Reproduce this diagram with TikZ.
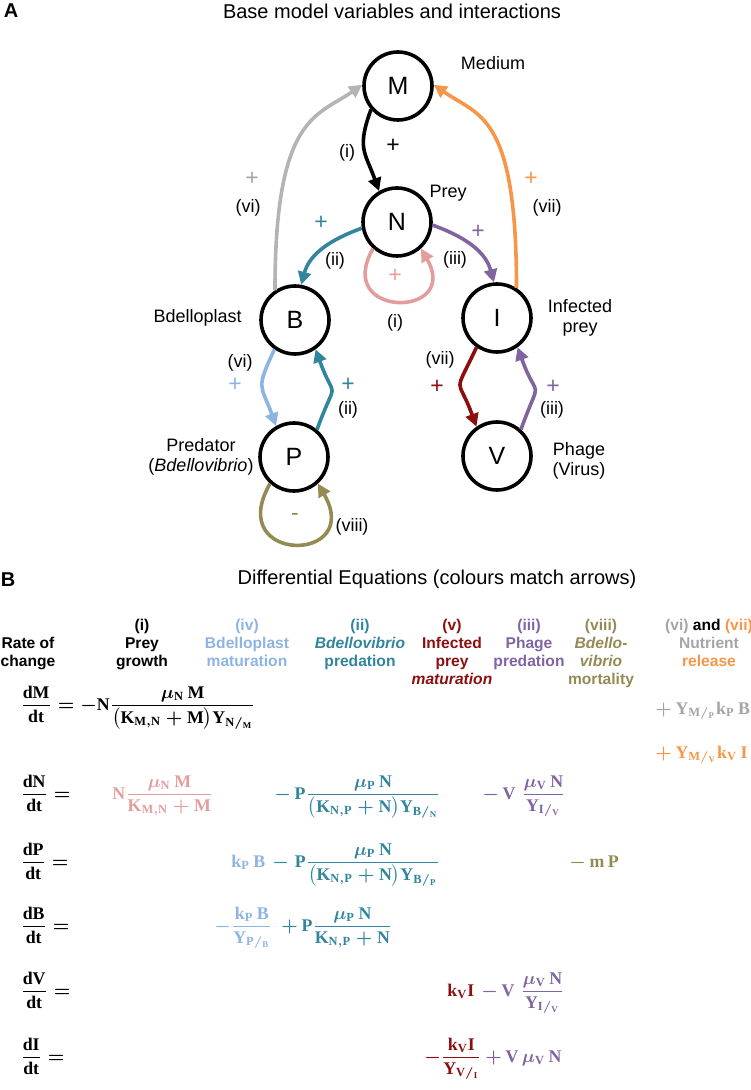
\documentclass[tikz,border=0pt]{standalone}
\usepackage[no-math]{fontspec}
\setmainfont{Liberation Sans}
\newfontfamily\eqserif{Liberation Serif}[NFSSFamily=libserif]
\usepackage{amsmath}
\usepackage{xcolor}
\usetikzlibrary{arrows.meta}
\DeclareMathAlphabet{\mathlb}{TU}{libserif}{b}{n}

\definecolor{grayarr}{RGB}{180,180,180}
\definecolor{graytxt}{RGB}{165,165,165}
\definecolor{orangearr}{RGB}{247,150,70}
\definecolor{tealarr}{RGB}{49,133,156}
\definecolor{purplearr}{RGB}{128,100,162}
\definecolor{pinkarr}{RGB}{226,158,156}
\definecolor{lbluearr}{RGB}{142,180,227}
\definecolor{dredarr}{RGB}{140,14,14}
\definecolor{olivearr}{RGB}{148,138,84}

\tikzset{
  var/.style={circle, draw, line width=1.8pt, minimum size=34pt, inner sep=0pt, font=\fontsize{12.5}{14}\selectfont},
  lbl/.style={font=\fontsize{9}{10}\selectfont, align=center, inner sep=0pt},
  sgn/.style={font=\fontsize{11.5}{12}\selectfont, inner sep=0pt},
  link/.style={line width=1.8pt, -{Triangle[length=6.5pt,width=6.5pt]}},
  head/.style={font=\fontsize{7.8}{9}\selectfont\bfseries, align=center, anchor=north, inner sep=0pt},
  eq/.style={font=\fontsize{8.9}{11}\selectfont\boldmath, anchor=base west, inner sep=0pt},
}

\begin{document}
\begin{tikzpicture}[x=0.5pt, y=0.5pt]
\useasboundingbox (0,0) rectangle (750,-1090);
%%%%% Panel A %%%%%
\node[font=\fontsize{10}{12}\selectfont\bfseries] (tagA) at (11,-11) {A};
\node[font=\fontsize{10}{12}\selectfont] (titleA) at (392,-11) {Base model variables and interactions};
\foreach \n/\x/\y in {M/398/86, N/397/222, B/295/320, I/497/318, P/294/457, V/497/456}{
  \node[var] (\n) at (\x,-\y) {\n};
}
\node[lbl] (medium) at (493,-63) {Medium};
\node[lbl] (prey) at (448,-193) {Prey};
\node[lbl, anchor=east] (bdelloplast) at (242,-318) {Bdelloplast};
\node[lbl] (infected) at (580,-318) {Infected\\prey};
\node[lbl] (predator) at (201,-457) {Predator\\(\textit{Bdellovibrio})};
\node[lbl] (phage) at (579,-461) {Phage\\(Virus)};
%%%%% Arrows %%%%%
\draw[link] (M.221) to[out=250, in=110, looseness=1.3] (N.120);
\draw[link, color=grayarr] (B.124) .. controls +(0,175) and +(215:55) .. (M.178);
\draw[link, color=orangearr] (I.57) .. controls +(0,175) and +(-35:55) .. (M.2);
\draw[link, color=tealarr] (N.190) to[out=200, in=75] (B.80);
\draw[link, color=purplearr] (N.-5) to[out=-20, in=105] (I.95);
\draw[link, color=pinkarr] (N.228) .. controls +(240:81) and +(300:81) .. (N.312);
\draw[link, color=lbluearr] (B.235) to[out=245, in=110, looseness=1.5] (P.120);
\draw[link, color=tealarr] (P.50) to[out=70, in=290, looseness=1.9] (B.305);
\draw[link, color=dredarr] (I.235) to[out=245, in=110, looseness=1.8] (V.125);
\draw[link, color=purplearr] (V.48) to[out=70, in=290, looseness=1.9] (I.305);
\draw[link, color=olivearr] (P.228) .. controls +(240:93) and +(300:93) .. (P.312);
%%%%% Arrow labels %%%%%
\foreach \name/\x/\y/\t in {ri1/347/153/i, rvi1/248/208/vi, rvii1/547/208/vii, rii1/335/261/ii, riii1/455/260/iii, ri2/395/323/i, rvi2/240/363/vi, rii2/348/410/ii, rvii2/440/360/vii, riii2/552/410/iii, rviii/352/527/viii}{
  \node[lbl] (\name) at (\x,-\y) {(\t)};
}
\foreach \name/\x/\y/\c in {sM/393/146/black, sB/252/179/graytxt, sI/531/179/orangearr, sNB/321/223/tealarr, sNI/478/232/purplearr, sN/395/276/pinkarr, sBP/235/385/lbluearr, sPB/348/385/tealarr, sIV/437/387/dredarr, sVI/553/387/purplearr}{
  \node[sgn, text=\c] (\name) at (\x,-\y) {+};
}
\node[sgn, text=olivearr] (sP) at (295,-517) {-};
%%%%% Panel B %%%%%
\node[font=\fontsize{10}{12}\selectfont\bfseries] (tagB) at (8,-580) {B};
\node[font=\fontsize{10}{12}\selectfont] (titleB) at (437,-579) {Differential Equations (colours match arrows)};
\node[head] (hrate) at (28,-637) {Rate of\\change};
\node[head] (hgrowth) at (142,-619) {(i)\\Prey\\growth};
\node[head, text=lbluearr] (hmatur) at (247,-619) {(iv)\\Bdelloplast\\maturation};
\node[head, text=tealarr] (hpred) at (360,-619) {(ii)\\\textit{Bdellovibrio}\\predation};
\node[head, text=dredarr] (hinf) at (452,-619) {(v)\\Infected\\prey\\\textit{maturation}};
\node[head, text=purplearr] (hphage) at (529,-619) {(iii)\\Phage\\predation};
\node[head, text=olivearr] (hmort) at (601,-619) {(viii)\\\textit{Bdello-}\\\textit{vibrio}\\mortality};
\node[head] (hnutr) at (709,-619) {{\color{graytxt}(vi)} and {\color{orangearr}(vii)}\\{\color{graytxt}Nutrient}\\{\color{orangearr}release}};
%%%%% Equations %%%%%
\node[eq] (eqM) at (20,-710) {$\dfrac{\mathlb{dM}}{\mathlb{dt}} = -\mathlb{N}\dfrac{\mu_{\mathlb N}\,\mathlb M}{\bigl(\mathlb K_{\mathlb{M,N}}+\mathlb M\bigr)\mathlb Y_{\mathlb N/_{\mathlb M}}}$};
\node[eq, text=graytxt] (eqMB) at (655,-714) {$+\,\mathlb Y_{\mathlb M/_{\mathlb P}}\mathlb k_{\mathlb P}\,\mathlb B$};
\node[eq, text=orangearr] (eqMI) at (655,-758) {$+\,\mathlb Y_{\mathlb M/_{\mathlb V}}\mathlb k_{\mathlb V}\,\mathlb I$};
\node[eq] (eqN) at (20,-799) {$\dfrac{\mathlb{dN}}{\mathlb{dt}} =$};
\node[eq, text=pinkarr] (eqNg) at (112,-799) {$\mathlb N\dfrac{\mu_{\mathlb N}\,\mathlb M}{\mathlb K_{\mathlb{M,N}}+\mathlb M}$};
\node[eq, text=tealarr] (eqNp) at (274,-799) {$-\,\mathlb P\dfrac{\mu_{\mathlb P}\,\mathlb N}{\bigl(\mathlb K_{\mathlb{N,P}}+\mathlb N\bigr)\mathlb Y_{\mathlb B/_{\mathlb N}}}$};
\node[eq, text=purplearr] (eqNv) at (482,-799) {$-\,\mathlb V\;\dfrac{\mu_{\mathlb V}\,\mathlb N}{\mathlb Y_{\mathlb I/_{\mathlb V}}}$};
\node[eq] (eqP) at (20,-867) {$\dfrac{\mathlb{dP}}{\mathlb{dt}} =$};
\node[eq, text=lbluearr] (eqPm) at (231,-867) {$\mathlb k_{\mathlb P}\,\mathlb B$};
\node[eq, text=tealarr] (eqPp) at (272,-867) {$-\;\mathlb P\dfrac{\mu_{\mathlb P}\,\mathlb N}{\bigl(\mathlb K_{\mathlb{N,P}}+\mathlb N\bigr)\mathlb Y_{\mathlb B/_{\mathlb P}}}$};
\node[eq, text=olivearr] (eqPd) at (569,-867) {$-\,\mathlb m\,\mathlb P$};
\node[eq] (eqB) at (20,-931) {$\dfrac{\mathlb{dB}}{\mathlb{dt}} =$};
\node[eq, text=lbluearr] (eqBm) at (214,-931) {$-\dfrac{\mathlb k_{\mathlb P}\,\mathlb B}{\mathlb Y_{\mathlb P/_{\mathlb B}}}$};
\node[eq, text=tealarr] (eqBp) at (281,-931) {$+\,\mathlb P\dfrac{\mu_{\mathlb P}\,\mathlb N}{\mathlb K_{\mathlb{N,P}}+\mathlb N}$};
\node[eq] (eqV) at (20,-996) {$\dfrac{\mathlb{dV}}{\mathlb{dt}} =$};
\node[eq, text=dredarr] (eqVm) at (447,-996) {$\mathlb k_{\mathlb V}\mathlb I$};
\node[eq, text=purplearr] (eqVp) at (481,-996) {$-\,\mathlb V\;\dfrac{\mu_{\mathlb V}\,\mathlb N}{\mathlb Y_{\mathlb I/_{\mathlb V}}}$};
\node[eq] (eqI) at (20,-1062) {$\dfrac{\mathlb{dI}}{\mathlb{dt}} =$};
\node[eq, text=dredarr] (eqIm) at (424,-1062) {$-\dfrac{\mathlb k_{\mathlb V}\mathlb I}{\mathlb Y_{\mathlb V/_{\mathlb I}}}$};
\node[eq, text=purplearr] (eqIp) at (485,-1062) {$+\,\mathlb V\,\mu_{\mathlb V}\,\mathlb N$};
\end{tikzpicture}
\end{document}
